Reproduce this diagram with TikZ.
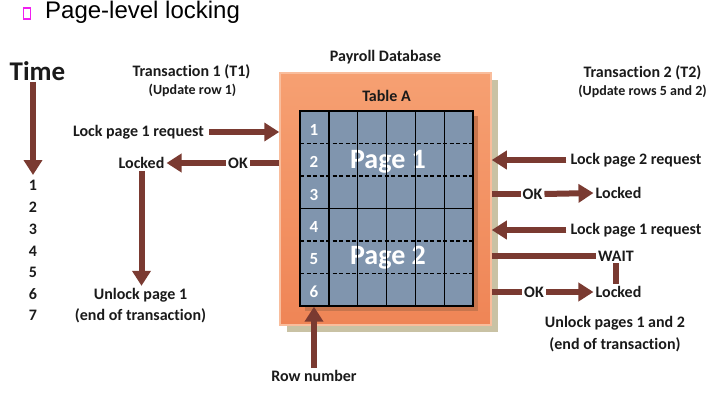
\documentclass[tikz,border=0pt]{standalone}
\usepackage{fontspec}
\setmainfont[Ligatures={NoCommon}]{Carlito}
\newfontfamily\slidefont{Liberation Sans}
\usetikzlibrary{arrows.meta}
\definecolor{ArrowBrown}{HTML}{7A3A31}
\definecolor{BoxTop}{HTML}{F6A072}
\definecolor{BoxBottom}{HTML}{EF8556}
\definecolor{BoxShadow}{HTML}{C9C2A4}
\definecolor{GridBlue}{HTML}{8095AE}
\definecolor{GridShadow}{HTML}{C7754D}
\definecolor{Bullet}{HTML}{F020F0}
\definecolor{Ink}{HTML}{1A1A1A}
\tikzset{>={Triangle[length=15pt,width=18pt]}}
\tikzstyle{none}=[inner sep=0pt]
\tikzstyle{bullet}=[draw=Bullet,line width=1.2,minimum width=7,minimum height=11,inner sep=0pt]
\tikzstyle{heading}=[inner sep=0pt,font=\slidefont\fontsize{24}{26}\selectfont]
\tikzstyle{txt}=[inner sep=2pt,text=Ink,font=\bfseries\fontsize{16}{18}\selectfont]
\tikzstyle{small}=[inner sep=1pt,text=Ink,font=\bfseries\fontsize{14}{16}\selectfont]
\tikzstyle{big}=[inner sep=1pt,text=Ink,font=\bfseries\fontsize{27}{29}\selectfont]
\tikzstyle{rownum}=[inner sep=0pt,text=white,font=\bfseries\fontsize{17}{19}\selectfont]
\tikzstyle{pagename}=[inner sep=0pt,text=white,font=\bfseries\fontsize{28}{30}\selectfont]
\tikzstyle{simple}=[-,draw=ArrowBrown,line width=6]
\tikzstyle{pointer}=[->,draw=ArrowBrown,fill=ArrowBrown,line width=6]
\tikzstyle{gridline}=[-,draw=black,line width=1.4]
\tikzstyle{pageline}=[-,draw=black,line width=1.7,dash pattern=on 4 off 2.5]
\pgfdeclarelayer{edgelayer}
\pgfdeclarelayer{nodelayer}
\pgfsetlayers{nodelayer,edgelayer,main}
\begin{document}
\begin{tikzpicture}[x=1pt,y=-1pt]
	\useasboundingbox (0,0) rectangle (716,410);
	\begin{pgfonlayer}{nodelayer}
		\node [style=bullet] (0) at (27, 13.5) {};
		\node [style=heading, anchor=west] (1) at (45, 12) {Page-level locking};
		\node [style=big] (2) at (37.5, 71) {Time};
		\node [style=txt] (3) at (33, 185) {1};
		\node [style=txt] (4) at (33, 207) {2};
		\node [style=txt] (5) at (33, 229) {3};
		\node [style=txt] (6) at (33, 251) {4};
		\node [style=txt] (7) at (33, 272) {5};
		\node [style=txt] (8) at (33, 294) {6};
		\node [style=txt] (9) at (33, 315) {7};
		\node [style=txt] (10) at (191.5, 72) {Transaction 1 (T1)};
		\node [style=small] (11) at (192.5, 90) {(Update row 1)};
		\node [style=txt] (12) at (138.5, 132) {Lock page 1 request};
		\node [style=txt] (13) at (141.5, 163) {Locked};
		\node [style=txt] (14) at (238, 163) {OK};
		\node [style=txt] (15) at (140.5, 295) {Unlock page 1};
		\node [style=txt] (16) at (140.5, 316) {(end of transaction)};
		\node [style=txt] (17) at (385.5, 57) {Payroll Database};
		\node [style=none, fill=BoxShadow, minimum width=211, minimum height=252] (18) at (392.5, 206) {};
		\node [style=none, top color=BoxTop, bottom color=BoxBottom, draw=BoxTop!70!white, line width=1.5, minimum width=211, minimum height=252] (19) at (385.5, 199) {};
		\node [style=txt] (20) at (386.5, 96) {Table A};
		\node [style=none, fill=GridShadow, minimum width=173, minimum height=195] (21) at (391.5, 213.5) {};
		\node [style=none, fill=GridBlue, draw=black, line width=1.4, minimum width=173, minimum height=195] (22) at (386.5, 208.5) {};
		\node [style=rownum] (23) at (314, 130) {1};
		\node [style=rownum] (24) at (314, 162) {2};
		\node [style=rownum] (25) at (314, 195) {3};
		\node [style=rownum] (26) at (314, 227) {4};
		\node [style=rownum] (27) at (314, 259) {5};
		\node [style=rownum] (28) at (314, 292) {6};
		\node [style=pagename] (29) at (388, 162) {Page 1};
		\node [style=pagename] (30) at (388, 258) {Page 2};
		\node [style=txt] (31) at (642.5, 73) {Transaction 2 (T2)};
		\node [style=small] (32) at (642.5, 91) {(Update rows 5 and 2)};
		\node [style=txt] (33) at (636, 160) {Lock page 2 request};
		\node [style=txt] (34) at (532.5, 194) {OK};
		\node [style=txt] (35) at (618.5, 193) {Locked};
		\node [style=txt] (36) at (636, 230) {Lock page 1 request};
		\node [style=txt] (37) at (616, 256) {WAIT};
		\node [style=txt] (38) at (534, 292) {OK};
		\node [style=txt] (39) at (618.5, 292) {Locked};
		\node [style=txt] (40) at (615, 323) {Unlock pages 1 and 2};
		\node [style=txt] (41) at (615, 345) {(end of transaction)};
		\node [style=txt] (42) at (314, 376) {Row number};
		\coordinate (43) at (33, 175);

		% rows and columns of table A
		\draw [style=gridline] (328.8, 111) -- (328.8, 306);
		\draw [style=gridline] (357.7, 111) -- (357.7, 306);
		\draw [style=gridline] (386.5, 111) -- (386.5, 306);
		\draw [style=gridline] (415.3, 111) -- (415.3, 306);
		\draw [style=gridline] (444.2, 111) -- (444.2, 306);
		\draw [style=pageline] (300, 143.5) -- (473, 143.5);
		\draw [style=pageline] (300, 176) -- (473, 176);
		\draw [style=gridline] (300, 208.5) -- (473, 208.5);
		\draw [style=pageline] (300, 241) -- (473, 241);
		\draw [style=pageline] (300, 273.5) -- (473, 273.5);
	\end{pgfonlayer}
	\begin{pgfonlayer}{edgelayer}
		\draw [style=pointer] (2.south -| 43) to (43);
		\draw [style=pointer, shorten <=3] (12.east) to (12.east -| 19.west);
		\draw [style=simple] (19.west |- 14.east) to (14.east);
		\draw [style=pointer] (14.west) to (13.east);
		\draw [style=pointer] (13.south) to (13.south |- 15.north);

		% transaction 2 side
		\draw [style=pointer, shorten <=2] (33.west) to (33.west -| 19.east);
		\draw [style=simple] (19.east |- 34.west) to (34.west);
		\draw [style=pointer] (34.east) to (35.west);
		\draw [style=pointer, shorten <=2] (36.west) to (36.west -| 19.east);
		\draw [style=simple] (19.east |- 37.west) to (37.west);
		\draw [style=simple] (37.south) to (37.south |- 39.north);
		\draw [style=simple] (19.east |- 38.west) to (38.west);
		\draw [style=pointer] (38.east) to (39.west);

		\draw [style=pointer] (42.north) to (42.north |- 22.south);
	\end{pgfonlayer}
\end{tikzpicture}
\end{document}
